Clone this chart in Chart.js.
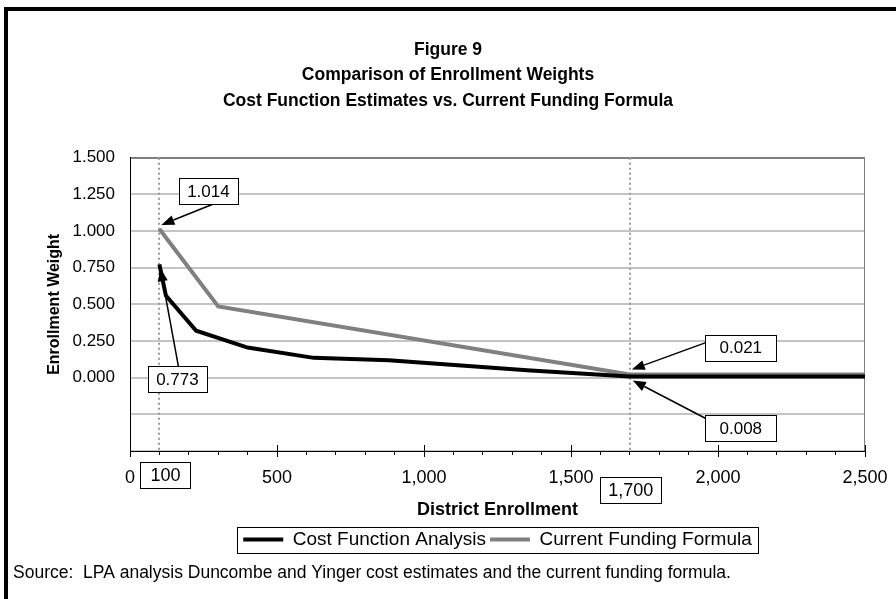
<!DOCTYPE html>
<html>
<head>
<meta charset="utf-8">
<script src="https://cdn.jsdelivr.net/npm/chart.js@4.4.4/dist/chart.umd.min.js"></script>
<style>
  html, body { margin: 0; padding: 0; background: #fff; }
  canvas { display: block; }
</style>
</head>
<body>
<canvas id="chart" width="896" height="599"></canvas>
<script>
// chart data
const titleLines = ['Figure 9', 'Comparison of Enrollment Weights', 'Cost Function Estimates vs. Current Funding Formula'];
const seriesNames = ['Cost Function Analysis', 'Current Funding Formula'];

const costEnrollment = [100, 122, 225, 400, 625, 880, 1350, 1700, 2500];
const costWeight = [0.773, 0.56, 0.32, 0.205, 0.135, 0.118, 0.05, 0.008, 0.008];

const fundEnrollment = [100, 300, 1700, 2500];
const fundWeight = [1.014, 0.486, 0.021, 0.021];

const markerEnrollment = [100, 1700];
const markerLabels = ['100', '1,700'];

const xMin = 0, xMax = 2500, xMinorStep = 100, xMajorStep = 500;
const yMin = -0.5, yMax = 1.5, yStep = 0.25;

const sourceNote = 'Source:  LPA analysis Duncombe and Yinger cost estimates and the current funding formula.';

const FONT = "'Liberation Sans', Arial, sans-serif";

function toPoints(xs, ys) {
    return xs.map((x, i) => ({ x: x, y: ys[i] }));
}

// callouts: which value to point at, and where the box sits relative to it
const callouts = [
    { text: '1.014', x: fundEnrollment[0], y: fundWeight[0], dx: 49, dy: -38, w: 57, tail: [5, 13], tip: [2, -4] },
    { text: '0.773', x: costEnrollment[0], y: costWeight[0], dx: 18, dy: 115, w: 59, tail: [1, -13], tip: [1, 4] },
    { text: '0.021', x: fundEnrollment[2], y: fundWeight[2], dx: 111, dy: -27, w: 71, tail: [-35, -5], tip: [2, -5] },
    { text: '0.008', x: costEnrollment[7], y: costWeight[7], dx: 111, dy: 52, w: 71, tail: [-35, -10], tip: [3, 4] }
];

function drawBox(ctx, cx, cy, text, font, minW) {
    ctx.font = font;
    const w = Math.max(ctx.measureText(text).width + 16, minW || 0);
    const h = 26;
    const x0 = Math.round(cx - w / 2) + 0.5, y0 = Math.round(cy - h / 2) + 0.5;
    ctx.fillStyle = '#fff';
    ctx.fillRect(x0, y0, Math.round(w), h);
    ctx.strokeStyle = '#000';
    ctx.lineWidth = 1;
    ctx.strokeRect(x0, y0, Math.round(w), h);
    ctx.fillStyle = '#000';
    ctx.textAlign = 'center';
    ctx.textBaseline = 'middle';
    ctx.fillText(text, cx, cy + 1);
}

function drawArrow(ctx, x1, y1, x2, y2) {
    const ang = Math.atan2(y2 - y1, x2 - x1);
    const len = 13, half = 5;
    const bx = x2 - len * Math.cos(ang), by = y2 - len * Math.sin(ang);
    ctx.strokeStyle = '#000';
    ctx.lineWidth = 1.5;
    ctx.beginPath();
    ctx.moveTo(x1, y1);
    ctx.lineTo(bx, by);
    ctx.stroke();
    ctx.fillStyle = '#000';
    ctx.beginPath();
    ctx.moveTo(x2, y2);
    ctx.lineTo(bx + half * Math.sin(ang), by - half * Math.cos(ang));
    ctx.lineTo(bx - half * Math.sin(ang), by + half * Math.cos(ang));
    ctx.closePath();
    ctx.fill();
}

const figurePlugin = {
    id: 'figure',
    beforeDraw(chart) {
        const ctx = chart.ctx;
        ctx.save();
        ctx.fillStyle = '#fff';
        ctx.fillRect(0, 0, chart.width, chart.height);
        // page frame (top and left edges)
        ctx.fillStyle = '#000';
        ctx.fillRect(4, 7, chart.width - 4, 4);
        ctx.fillRect(4, 7, 4, chart.height - 7);
        ctx.restore();
    },
    beforeDatasetsDraw(chart) {
        const { ctx, chartArea, scales } = chart;
        ctx.save();
        // plot frame, right edge
        ctx.strokeStyle = '#808080';
        ctx.lineWidth = 1;
        ctx.beginPath();
        ctx.moveTo(chartArea.right - 0.5, chartArea.top);
        ctx.lineTo(chartArea.right - 0.5, chartArea.bottom);
        ctx.stroke();
        // major x ticks cross the axis
        ctx.strokeStyle = '#000';
        ctx.beginPath();
        for (let v = xMin; v <= xMax; v += xMajorStep) {
            const px = Math.round(scales.x.getPixelForValue(v)) + 0.5;
            ctx.moveTo(px, chartArea.bottom - 6);
            ctx.lineTo(px, chartArea.bottom + 6);
        }
        ctx.stroke();
        // dotted reference lines
        ctx.strokeStyle = '#9a9a9a';
        ctx.lineWidth = 2;
        ctx.setLineDash([2, 3]);
        markerEnrollment.forEach(v => {
            const px = Math.round(scales.x.getPixelForValue(v));
            ctx.beginPath();
            ctx.moveTo(px, chartArea.top);
            ctx.lineTo(px, chartArea.bottom);
            ctx.stroke();
        });
        ctx.restore();
    },
    afterDraw(chart) {
        const { ctx, chartArea, scales } = chart;
        const font = '17px ' + FONT;
        ctx.save();
        callouts.forEach(c => {
            const px = scales.x.getPixelForValue(c.x);
            const py = scales.y.getPixelForValue(c.y);
            const bx = px + c.dx, by = py + c.dy;
            drawArrow(ctx, bx + c.tail[0], by + c.tail[1], px + c.tip[0], py + c.tip[1]);
            drawBox(ctx, bx, by, c.text, font, c.w);
        });
        // boxed axis labels for the reference lines
        const offsets = [[6, 24, 50], [1, 39, 57]];
        markerEnrollment.forEach((v, i) => {
            const px = scales.x.getPixelForValue(v);
            drawBox(ctx, px + offsets[i][0], chartArea.bottom + offsets[i][1], markerLabels[i], '18px ' + FONT, offsets[i][2]);
        });
        // box round the legend
        const boxes = chart.legend.legendHitBoxes;
        if (boxes && boxes.length) {
            const left = Math.min(...boxes.map(b => b.left)) - 6;
            const right = Math.max(...boxes.map(b => b.left + b.width)) + 6;
            const top = Math.min(...boxes.map(b => b.top)) - 3;
            const bottom = Math.max(...boxes.map(b => b.top + b.height)) + 4;
            ctx.strokeStyle = '#000';
            ctx.lineWidth = 1;
            ctx.strokeRect(Math.round(left) + 0.5, Math.round(top) + 0.5, Math.round(right - left), Math.round(bottom - top));
        }
        ctx.restore();
    }
};

new Chart(document.getElementById('chart'), {
    type: 'line',
    data: {
        datasets: [
            {
                label: seriesNames[0],
                data: toPoints(costEnrollment, costWeight),
                borderColor: '#000000',
                backgroundColor: '#000000',
                borderWidth: 4,
                pointRadius: 0,
                tension: 0,
                yAxisID: 'y'
            },
            {
                label: seriesNames[1],
                data: toPoints(fundEnrollment, fundWeight),
                borderColor: '#808080',
                backgroundColor: '#808080',
                borderWidth: 4,
                pointRadius: 0,
                tension: 0,
                yAxisID: 'y'
            }
        ]
    },
    options: {
        responsive: false,
        animation: false,
        devicePixelRatio: 1,
        layout: { padding: { left: 13, right: 13, top: 0, bottom: 0 } },
        scales: {
            x: {
                type: 'linear',
                min: xMin,
                max: xMax,
                afterFit: scale => {
                    scale.height = 75;
                    // the "2,500" label may hang into the gutter
                    scale.paddingLeft = 0;
                    scale.paddingRight = 0;
                },
                border: { color: '#000', width: 1 },
                grid: { drawOnChartArea: false, drawTicks: true, tickLength: 4, color: '#000' },
                ticks: {
                    stepSize: xMinorStep,
                    autoSkip: false,
                    maxRotation: 0,
                    padding: 12,
                    color: '#000',
                    font: { family: FONT, size: 18 },
                    callback: v => (v % xMajorStep === 0 ? v.toLocaleString('en-US') : '')
                },
                title: {
                    display: true,
                    text: 'District Enrollment',
                    color: '#000',
                    font: { family: FONT, size: 18, weight: 'bold' },
                    padding: { top: 4, bottom: 5 }
                }
            },
            y: {
                min: yMin,
                max: yMax,
                afterFit: scale => { scale.width = 117; },
                border: { color: '#000', width: 1 },
                grid: {
                    drawTicks: false,
                    lineWidth: 2,
                    color: c => (c.tick && c.tick.value === yMax ? '#808080' : '#c4c4c4')
                },
                ticks: {
                    stepSize: yStep,
                    padding: 15,
                    color: '#000',
                    font: { family: FONT, size: 17 },
                    callback: v => (v >= 0 ? v.toFixed(3) : '')
                },
                title: {
                    display: true,
                    text: 'Enrollment Weight',
                    color: '#000',
                    font: { family: FONT, size: 16, weight: 'bold' },
                    padding: { top: 32, bottom: 0 }
                }
            },
            // empty right-hand gutter so the title stays centred on the page
            gutter: {
                type: 'linear',
                position: 'right',
                display: true,
                afterFit: scale => { scale.width = 18; },
                grid: { display: false },
                border: { display: false },
                ticks: { display: false }
            }
        },
        plugins: {
            title: {
                display: true,
                text: titleLines,
                color: '#000',
                font: { family: FONT, size: 17.5, weight: 'bold', lineHeight: 1.46 },
                padding: { top: 37, bottom: 44 }
            },
            legend: {
                position: 'bottom',
                fullSize: false,
                labels: {
                    color: '#000',
                    font: { family: FONT, size: 19 },
                    usePointStyle: true,
                    pointStyle: 'line',
                    pointStyleWidth: 40,
                    boxHeight: 4,
                    padding: 4
                }
            },
            subtitle: {
                display: true,
                text: sourceNote,
                position: 'bottom',
                align: 'start',
                color: '#000',
                font: { family: FONT, size: 17.5 },
                padding: { top: 3.5, bottom: 15.5 }
            },
            tooltip: { enabled: false }
        }
    },
    plugins: [figurePlugin]
});
</script>
</body>
</html>
